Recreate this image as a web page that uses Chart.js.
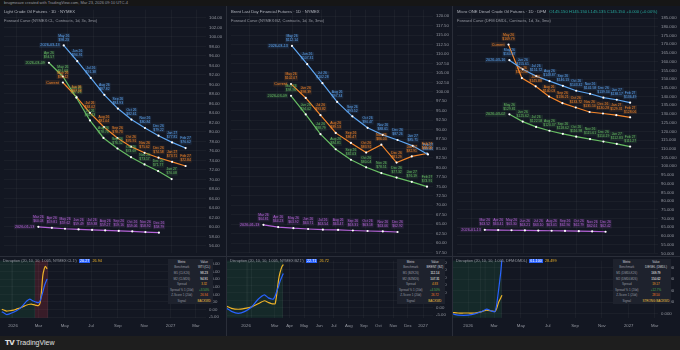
<!DOCTYPE html>
<html>
<head>
<meta charset="utf-8">
<script src="https://cdn.jsdelivr.net/npm/chart.js@4.4.1/dist/chart.umd.min.js"></script>
<style>
  body { margin:0; width:680px; height:350px; background:#2a2e39; overflow:hidden; position:relative; font-family:"Liberation Sans","DejaVu Sans",sans-serif; }
  .topbar { position:absolute; left:0; top:0; width:680px; height:6px; background:#161616; color:#9598a1; font-size:4px; line-height:6px; }
  .topbar span { margin-left:4px; }
  .pane { position:absolute; top:6px; height:330px; background:#131722; overflow:hidden; }
  .pane canvas { position:absolute; left:0; }
  .sep { position:absolute; left:0; right:0; top:250px; height:1px; background:#2a2e39; }
  .title { position:absolute; left:4px; top:3px; font-size:4.2px; color:#b2b5be; white-space:nowrap; }
  .legend { position:absolute; left:4px; top:12px; font-size:4px; color:#9598a1; white-space:nowrap; }
  .ohlc { color:#26a69a; margin-left:3px; }
  .ind { position:absolute; left:3px; top:253px; font-size:3.8px; color:#9598a1; white-space:nowrap; }
  .ind .b { background:#2962ff; color:#fff; padding:0 1px; margin-left:2px; }
  .ind .o { color:#f0b429; margin-left:2px; }
  table.stats { position:absolute; top:253px; border-collapse:collapse; background:#1e222d; font-size:3px; color:#9598a1; }
  table.stats td { padding:0.6px 2px; height:4.4px; text-align:center; white-space:nowrap; }
  table.stats tr:first-child td { color:#d1d4dc; }
  .footer { position:absolute; left:0; top:336px; width:680px; height:14px; background:#1e1e1e; color:#e0e0e0; font-size:7px; line-height:14px; }
  .footer b { margin-left:5px; font-family:"DejaVu Sans"; font-weight:900; letter-spacing:-0.5px; }
</style>
</head>
<body>
<div class="topbar"><span>brugmeave created with TradingView.com, Mar 23, 2026 09:10 UTC-4</span></div>

<div class="pane" id="pane1" style="left:0;width:226px">
  <canvas id="main1" width="226" height="255" style="top:-2px"></canvas>
  <div class="sep"></div>
  <canvas id="ind1" width="226" height="78" style="top:249px"></canvas>
  <div class="title">Light Crude Oil Futures · 1D · NYMEX</div>
  <div class="legend">Forward Curve (NYMEX:CL, Contracts, 1d, 3x, 3mo)</div>
  <div class="ind">Disruption (20, 10, 10, 1.005, NYMEX:CL1!)<span class="b">20.27</span><span class="o">26.94</span></div>
  <table class="stats" id="tab1" style="left:168px"></table>
</div>

<div class="pane" id="pane2" style="left:227px;width:225px">
  <canvas id="main2" width="225" height="255" style="top:-2px"></canvas>
  <div class="sep"></div>
  <canvas id="ind2" width="225" height="78" style="top:249px"></canvas>
  <div class="title">Brent Last Day Financial Futures · 1D · NYMEX</div>
  <div class="legend">Forward Curve (NYMEX:BZ, Contracts, 1d, 3x, 3mo)</div>
  <div class="ind">Disruption (20, 10, 10, 1.005, NYMEX:BZ1!)<span class="b">22.71</span><span class="o">26.72</span></div>
  <table class="stats" id="tab2" style="left:170px"></table>
</div>

<div class="pane" id="pane3" style="left:453px;width:227px">
  <canvas id="main3" width="227" height="255" style="top:-2px"></canvas>
  <div class="sep"></div>
  <canvas id="ind3" width="227" height="78" style="top:249px"></canvas>
  <div class="title">Micro ONE Diesel Crude Oil Futures · 1D · DFM<span class="ohlc">O145.150 H145.150 L145.135 C145.150 +0.000 (+0.00%)</span></div>
  <div class="legend">Forward Curve (DFM:DMDL, Contracts, 1d, 3x, 3mo)</div>
  <div class="ind">Disruption (20, 10, 10, 1.005, DFM:DMDL)<span class="b">61.100</span><span class="o">28.499</span></div>
  <table class="stats" id="tab3" style="left:160px"></table>
</div>

<div class="footer"><b>TV</b> TradingView</div>

<script>
// contract months used for the point labels
const contractMonths = ['Mar 26', 'Apr 26', 'May 26', 'Jun 26', 'Jul 26', 'Aug 26', 'Sep 26', 'Oct 26', 'Nov 26', 'Dec 26', 'Jan 27', 'Feb 27'];

// x axis: days since 2026-01-01
const tickDaysWide = [0, 59, 120, 181, 243, 304, 365, 424];
const tickLabelsWide = ['2026', 'Mar', 'May', 'Jul', 'Sep', 'Nov', '2027', 'Mar'];
const tickDaysMonthly = [0, 59, 90, 120, 151, 181, 212, 243, 273, 304, 334, 365];
const tickLabelsMonthly = ['2026', 'Mar', 'Apr', 'May', 'Jun', 'Jul', 'Aug', 'Sep', 'Oct', 'Nov', 'Dec', '2027'];

// panel 1 : WTI
const p1BlueDays = [111, 143, 175, 207, 239, 271, 303, 335, 367, 399];
const p1BlueVals = [98.23, 94.91, 91.38, 87.82, 84.93, 82.61, 80.84, 79.22, 77.81, 76.62];
const p1OrangeDays = [109, 141, 173, 206, 238, 270, 302, 335, 367, 399];
const p1OrangeVals = [90.42, 87.38, 84.02, 81.04, 78.73, 76.91, 75.62, 74.58, 73.71, 72.84];
const p1GreenDays = [76, 109, 141, 173, 205, 238, 270, 302, 334, 366];
const p1GreenVals = [94.57, 91.68, 87.21, 82.43, 78.74, 76.52, 74.69, 73.17, 71.77, 70.08];
const p1PurpleDays = [51, 83, 114, 146, 178, 209, 241, 273, 304, 336];
const p1PurpleVals = [60.03, 59.81, 59.62, 59.49, 59.38, 59.27, 59.16, 59.06, 58.92, 58.79];
const p1IndDays = [-26, -20, -15, -8, 1, 8, 16, 24, 32, 39, 43, 47, 53, 59, 63, 66, 69, 72, 75, 79];
const p1IndBlue = [-1.4, -2.5, -3.3, -2.9, -1.8, -0.8, 0.6, 3.0, 5.6, 6.9, 6.3, 5.6, 5.0, 4.6, 5.8, 8.5, 11.5, 14.8, 17.5, 20.27];
const p1IndYellow = [0.2, -0.5, -1.0, -0.8, -0.4, 0.3, 1.0, 2.0, 3.0, 3.5, 3.6, 3.2, 2.8, 2.6, 4.6, 12.0, 22.3, 26.5, 28.6, 26.94];

// panel 2 : Brent
const p2BlueDays = [89, 121, 153, 184, 216, 248, 280, 311, 343, 375];
const p2BlueVals = [112.14, 107.31, 102.28, 97.34, 93.52, 90.47, 88.61, 87.26, 85.71, 83.44];
const p2OrangeDays = [87, 118, 149, 181, 213, 245, 277, 309, 341, 373];
const p2OrangeVals = [102.07, 98.39, 93.82, 89.13, 86.47, 83.92, 86.03, 81.29, 82.91, 83.68];
const p2GreenDays = [87, 118, 149, 181, 213, 245, 277, 309, 341, 373];
const p2GreenVals = [98.96, 94.02, 88.79, 84.81, 82.03, 80.04, 78.51, 77.32, 76.19, 74.91];
const p2PurpleDays = [29, 60, 92, 123, 154, 186, 217, 248, 280, 311];
const p2PurpleVals = [64.81, 64.23, 63.92, 63.71, 63.54, 63.47, 63.31, 63.18, 63.06, 62.92];
const p2IndDays = [-40, -30, -16, -2, 12, 25, 38, 46, 53, 56, 60, 63, 67, 70, 74, 77];
const p2IndBlue = [-0.4, -2.4, -3.7, -2.4, 0.6, 5.6, 8.5, 6.5, 5.8, 5.6, 7.8, 10.5, 14.0, 17.4, 20.5, 22.71];
const p2IndYellow = [1.0, -0.4, -1.0, -0.4, 0.6, 2.6, 4.6, 3.5, 2.6, 2.5, 2.6, 8.0, 18.3, 23.0, 27.2, 28.6];

// panel 3 : diesel
const p3OrangeDays = [85, 116, 148, 179, 210, 241, 273, 304, 335, 367];
const p3OrangeVals = [169.79, 150.62, 145.88, 140.03, 136.21, 133.72, 131.14, 130.28, 129.31, 128.06];
const p3BlueDays = [87, 118, 149, 180, 211, 242, 274, 305, 336, 367];
const p3BlueVals = [160.87, 155.61, 151.72, 148.87, 146.13, 143.32, 141.58, 139.34, 138.17, 136.49];
const p3GreenDays = [87, 118, 149, 180, 211, 242, 274, 305, 336, 367];
const p3GreenVals = [129.81, 125.62, 122.58, 120.37, 118.62, 116.98, 115.61, 114.19, 112.83, 111.27];
const p3PurpleDays = [30, 61, 92, 123, 154, 185, 216, 248, 279, 310];
const p3PurpleVals = [63.52, 63.41, 63.30, 63.21, 63.10, 63.01, 62.90, 62.79, 62.61, 62.42];
const p3IndDays = [-42, -32, -23, -10, 0, 15, 31, 42, 53, 61, 65, 69, 74, 77];
const p3IndBlue = [0.3, -0.8, -1.6, -1.7, -1.6, -0.5, 1.6, 3.7, 2.1, 1.6, 8.0, 19.9, 35.7, 48.8];
const p3IndYellow = [1.0, 0.6, 0.3, 0.3, 0.3, 0.3, 1.6, 2.9, 2.1, 1.6, 4.5, 9.5, 13.5, 16.0];

const tableRows = [
  [['Metric', 'Value'], ['Benchmark', 'WTI (CL)'], ['M1 (CLK26)', '98.23'], ['M2 (CLM26)', '94.91'], ['Spread', '3.32'], ['Spread % 1 (20d)', '+3.50%'], ['Z-Score 1 (20d)', '26.94'], ['Signal', 'BACKWD']],
  [['Metric', 'Value'], ['Benchmark', 'BRENT (BZ)'], ['M1 (BZK26)', '112.14'], ['M2 (BZM26)', '107.31'], ['Spread', '4.83'], ['Spread % 1 (20d)', '+4.50%'], ['Z-Score 1 (20d)', '26.72'], ['Signal', 'BACKWD']],
  [['Metric', 'Value'], ['Benchmark', 'DIESEL (DMDL)'], ['M1 (DMDLK26)', '169.79'], ['M2 (DMDLM26)', '150.62'], ['Spread', '19.17'], ['Spread % 1 (20d)', '+12.7%'], ['Z-Score 1 (20d)', '28.50'], ['Signal', 'STRONG BACKWD']]
];
const valueColors = ['#d1d4dc', '#d1d4dc', '#ffffff', '#ffffff', '#f5a623', '#4caf50', '#f57c1f', '#f0c040'];

const BLUE = '#5ea6f2', ORANGE = '#f5862a', GREEN = '#67bd63', PURPLE = '#b564d8';
const GRID = 'rgba(255,255,255,0.035)';
const TICK = '#9598a1';

function pts(days, vals) {
  return days.map((d, i) => ({ x: d, y: vals[i] }));
}

function curve(days, vals, color, monthStart, startLabel) {
  return {
    data: pts(days, vals),
    borderColor: color,
    borderWidth: 1.2,
    pointRadius: 1.1,
    pointBackgroundColor: '#ffffff',
    pointBorderWidth: 0,
    tension: 0,
    months: contractMonths.slice(monthStart, monthStart + days.length),
    startLabel: startLabel
  };
}

function hexA(hex, a) {
  const n = parseInt(hex.slice(1), 16);
  return `rgba(${n >> 16},${(n >> 8) & 255},${n & 255},${a})`;
}

// draws the "Mon YY / $price" boxes and the start tag of each curve
const curveLabels = {
  id: 'curveLabels',
  afterDatasetsDraw(chart) {
    const ctx = chart.ctx;
    chart.data.datasets.forEach((ds, i) => {
      if (!ds.months) return;
      const meta = chart.getDatasetMeta(i);
      const col = ds.borderColor;
      ctx.save();
      ctx.font = '3.4px "Liberation Sans"';
      ctx.textAlign = 'center';
      ctx.textBaseline = 'middle';
      meta.data.forEach((p, j) => {
        const l1 = ds.months[j];
        const l2 = '$' + ds.data[j].y.toFixed(2);
        const w = Math.max(ctx.measureText(l1).width, ctx.measureText(l2).width) + 1.6;
        const top = p.y - 12;
        ctx.fillStyle = hexA(col, 0.11);
        ctx.fillRect(p.x - w / 2, top, w, 8.6);
        ctx.fillStyle = col;
        ctx.fillText(l1, p.x, top + 2.3);
        ctx.fillText(l2, p.x, top + 6.3);
      });
      const p0 = meta.data[0];
      ctx.font = '3.8px "Liberation Sans"';
      const w0 = ctx.measureText(ds.startLabel).width + 2;
      ctx.fillStyle = hexA(col, 0.11);
      ctx.fillRect(p0.x - 3 - w0, p0.y - 2.5, w0, 5);
      ctx.fillStyle = col;
      ctx.textAlign = 'right';
      ctx.fillText(ds.startLabel, p0.x - 4, p0.y);
      ctx.restore();
    });
  }
};

// shaded regime zones behind the indicator
const zones = {
  id: 'zones',
  beforeDatasetsDraw(chart, args, opts) {
    const { ctx, chartArea: a, scales: { x } } = chart;
    ctx.save();
    (opts.list || []).forEach(z => {
      const x0 = Math.max(a.left, x.getPixelForValue(z.from));
      const x1 = Math.min(a.right, x.getPixelForValue(z.to));
      ctx.fillStyle = z.color;
      ctx.fillRect(x0, a.top, x1 - x0, a.bottom - a.top);
      ctx.fillStyle = 'rgba(255,255,255,0.08)';
      ctx.fillRect(x1 - 0.5, a.top, 0.7, a.bottom - a.top);
    });
    ctx.restore();
  }
};

function yAxis(min, max, step, dec, width) {
  return {
    position: 'right', min: min, max: max,
    grid: { color: GRID, drawTicks: false },
    border: { display: false },
    ticks: { stepSize: step, includeBounds: false, color: TICK, padding: 3, font: { size: 4.3, family: 'Liberation Sans' },
      callback: v => v.toFixed(dec) },
    afterFit: s => { s.width = width; }
  };
}

function mainChart(id, datasets, xmin, xmax, tickDays, ymin, ymax, step, dec, axisW) {
  new Chart(document.getElementById(id), {
    type: 'line',
    data: { datasets: datasets },
    options: {
      responsive: false, animation: false, devicePixelRatio: 1,
      layout: { padding: 0 },
      plugins: { legend: { display: false }, tooltip: { enabled: false } },
      scales: {
        x: { type: 'linear', min: xmin, max: xmax, border: { display: false },
          grid: { color: GRID, drawTicks: false }, ticks: { display: false },
          afterBuildTicks: s => { s.ticks = tickDays.map(v => ({ value: v })); } },
        y: yAxis(ymin, ymax, step, dec, axisW)
      }
    },
    plugins: [curveLabels]
  });
}

function indChart(id, days, blue, yellow, xmin, xmax, tickDays, tickLabels, ymin, ymax, step, dec, axisW, zoneList) {
  new Chart(document.getElementById(id), {
    type: 'line',
    data: { datasets: [
      { data: pts(days, blue), borderColor: '#2962ff', borderWidth: 1.2, pointRadius: 0, tension: 0.2 },
      { data: pts(days, yellow), borderColor: '#f0b429', borderWidth: 1.2, pointRadius: 0, tension: 0.2 }
    ] },
    options: {
      responsive: false, animation: false, devicePixelRatio: 1,
      layout: { padding: 0 },
      plugins: { legend: { display: false }, tooltip: { enabled: false }, zones: { list: zoneList } },
      scales: {
        x: { type: 'linear', min: xmin, max: xmax, border: { display: false },
          grid: { color: GRID, drawTicks: false },
          ticks: { color: TICK, padding: 5, autoSkip: false, maxRotation: 0, font: { size: 4.3, family: 'Liberation Sans' },
            callback: (v, i) => tickLabels[i] },
          afterBuildTicks: s => { s.ticks = tickDays.map(v => ({ value: v })); } },
        y: yAxis(ymin, ymax, step, dec, axisW)
      }
    },
    plugins: [zones]
  });
}

const GREENZONE = 'rgba(38,166,91,0.13)', REDZONE = 'rgba(242,54,69,0.17)';

mainChart('main1', [
  curve(p1PurpleDays, p1PurpleVals, PURPLE, 0, '2026-01-13'),
  curve(p1GreenDays, p1GreenVals, GREEN, 1, '2026-03-09'),
  curve(p1BlueDays, p1BlueVals, BLUE, 2, '2026-03-13'),
  curve(p1OrangeDays, p1OrangeVals, ORANGE, 2, 'Current')
], -30.1, 447.2, tickDaysWide, 54.43, 105.77, 2, 2, 20);
indChart('ind1', p1IndDays, p1IndBlue, p1IndYellow, -30.1, 447.2, tickDaysWide, tickLabelsWide, -5.5, 32.37, 5, 2, 20,
  [{ from: -40, to: -2, color: GREENZONE }, { from: -2, to: 51, color: GREENZONE }, { from: 51, to: 81, color: REDZONE }]);

mainChart('main2', [
  curve(p2PurpleDays, p2PurpleVals, PURPLE, 0, '2026-01-13'),
  curve(p2GreenDays, p2GreenVals, GREEN, 2, '2026-03-09'),
  curve(p2BlueDays, p2BlueVals, BLUE, 2, '2026-03-13'),
  curve(p2OrangeDays, p2OrangeVals, ORANGE, 2, 'Current')
], -39.2, 385.6, tickDaysMonthly, 57.25, 121.76, 2.5, 2, 19);
indChart('ind2', p2IndDays, p2IndBlue, p2IndYellow, -39.2, 385.6, tickDaysMonthly, tickLabelsMonthly, -6.7, 31.2, 5, 2, 19,
  [{ from: -45, to: 4, color: GREENZONE }, { from: 4, to: 12, color: GREENZONE }, { from: 12, to: 76, color: GREENZONE }]);

mainChart('main3', [
  curve(p3PurpleDays, p3PurpleVals, PURPLE, 0, '2026-01-13'),
  curve(p3GreenDays, p3GreenVals, GREEN, 2, '2026-03-02'),
  curve(p3BlueDays, p3BlueVals, BLUE, 2, '2026-03-16'),
  curve(p3OrangeDays, p3OrangeVals, ORANGE, 2, 'Current')
], -34.4, 431.6, tickDaysWide, 50.0, 189.89, 5, 3, 22);
indChart('ind3', p3IndDays, p3IndBlue, p3IndYellow, -34.4, 431.6, tickDaysWide, tickLabelsWide, -3.94, 46.46, 10, 3, 22,
  [{ from: -45, to: 28, color: GREENZONE }, { from: 28, to: 39, color: GREENZONE }, { from: 39, to: 76, color: GREENZONE }]);

// stats tables in the indicator panes
tableRows.forEach((rows, t) => {
  const tab = document.getElementById('tab' + (t + 1));
  rows.forEach((r, i) => {
    const tr = document.createElement('tr');
    tr.innerHTML = `<td>${r[0]}</td><td style="color:${valueColors[i]}">${r[1]}</td>`;
    tab.appendChild(tr);
  });
});
</script>
</body>
</html>
